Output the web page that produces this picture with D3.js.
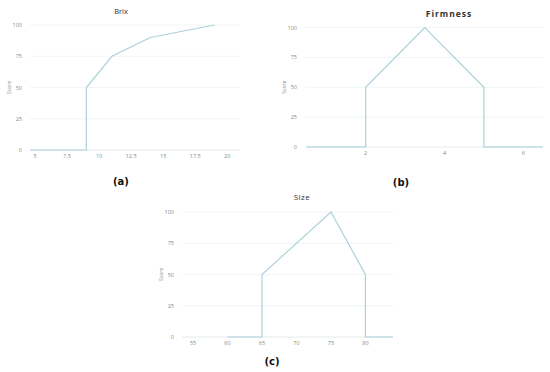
<!DOCTYPE html>
<html>
<head>
<meta charset="utf-8">
<script src="https://cdn.jsdelivr.net/npm/d3@7"></script>
<style>
  body { margin: 0; background: #fff; }
  svg { display: block; }
</style>
</head>
<body>
<svg width="550" height="372"></svg>
<script>
// data
const scoreTicks = [0, 25, 50, 75, 100];

const brixX = [4.6, 9, 9, 11, 14, 19];
const brixY = [0, 0, 50, 75, 90, 100];
const brixTicks = [5, 7.5, 10, 12.5, 15, 17.5, 20];

const firmX = [0.5, 2, 2, 3.5, 5, 5, 6.5];
const firmY = [0, 0, 50, 100, 50, 0, 0];
const firmTicks = [2, 4, 6];

const sizeX = [60, 65, 65, 75, 80, 80, 84];
const sizeY = [0, 0, 50, 100, 50, 0, 0];
const sizeTicks = [55, 60, 65, 70, 75, 80];

const svg = d3.select('svg');
const lineColor = '#acd2da';

let panel = (opt) => {
  const g = svg.append('g');
  const x = d3.scaleLinear().domain(opt.xDomain).range([opt.left, opt.right]);
  const y = d3.scaleLinear().domain([0, 100]).range([opt.bottom, opt.top]);

  // gridlines
  g.selectAll('.grid')
    .data(scoreTicks)
    .enter().append('line')
      .attr('x1', opt.left)
      .attr('x2', opt.right)
      .attr('y1', d => y(d))
      .attr('y2', d => y(d))
      .attr('stroke', d => d == 0 ? '#dde6ea' : '#eef2f4')
      .attr('stroke-width', 0.8);

  // y tick labels
  g.selectAll('.ylab')
    .data(scoreTicks)
    .enter().append('text')
      .attr('x', opt.left - 8)
      .attr('y', d => y(d) + 2)
      .attr('text-anchor', 'end')
      .attr('font-family', 'Open Sans')
      .attr('font-size', 5.5)
      .attr('fill', '#888')
      .text(d => d);

  // x tick labels
  g.selectAll('.xlab')
    .data(opt.xTicks)
    .enter().append('text')
      .attr('x', d => x(d))
      .attr('y', opt.bottom + 8)
      .attr('text-anchor', 'middle')
      .attr('font-family', 'Open Sans')
      .attr('font-size', 5.5)
      .attr('fill', '#888')
      .text(d => d);

  // axis title
  g.append('text')
    .attr('transform', `translate(${opt.left - 19},${(opt.top + opt.bottom) / 2}) rotate(-90)`)
    .attr('text-anchor', 'middle')
    .attr('font-family', 'Open Sans')
    .attr('font-size', 5)
    .attr('fill', '#888')
    .text('Score');

  // chart title
  g.append('text')
    .attr('x', opt.titleX)
    .attr('y', opt.titleY)
    .attr('text-anchor', 'middle')
    .attr('font-family', 'Open Sans')
    .attr('font-size', opt.titleSize)
    .attr('font-weight', opt.titleWeight)
    .attr('letter-spacing', opt.titleSpacing)
    .attr('fill', '#333')
    .text(opt.title);

  const line = d3.line().x(d => x(d[0])).y(d => y(d[1]));
  g.append('path')
    .datum(d3.zip(opt.xs, opt.ys))
    .attr('fill', 'none')
    .attr('stroke', lineColor)
    .attr('stroke-width', 1.2)
    .attr('d', line);

  svg.append('text')
    .attr('x', opt.labX)
    .attr('y', opt.labY)
    .attr('text-anchor', 'middle')
    .attr('font-family', 'DejaVu Sans')
    .attr('font-weight', 'bold')
    .attr('font-size', 10)
    .attr('fill', '#111')
    .text(opt.label);
};

panel({
  title: 'Brix', titleX: 121, titleY: 14, titleSize: 7.5, titleWeight: 'normal', titleSpacing: 0,
  xs: brixX, ys: brixY, xTicks: brixTicks, xDomain: [4.6, 21],
  left: 30, right: 240, top: 25, bottom: 150,
  label: '(a)', labX: 121, labY: 185
});

panel({
  title: 'Firmness', titleX: 449, titleY: 17, titleSize: 8.5, titleWeight: 'bold', titleSpacing: 1,
  xs: firmX, ys: firmY, xTicks: firmTicks, xDomain: [0.46, 6.5],
  left: 305, right: 543, top: 27.5, bottom: 147,
  label: '(b)', labX: 401, labY: 186
});

panel({
  title: 'Size', titleX: 302, titleY: 200, titleSize: 8, titleWeight: 'normal', titleSpacing: 0.5,
  xs: sizeX, ys: sizeY, xTicks: sizeTicks, xDomain: [53.4, 84],
  left: 182, right: 393, top: 212, bottom: 337,
  label: '(c)', labX: 272, labY: 365
});
</script>
</body>
</html>
